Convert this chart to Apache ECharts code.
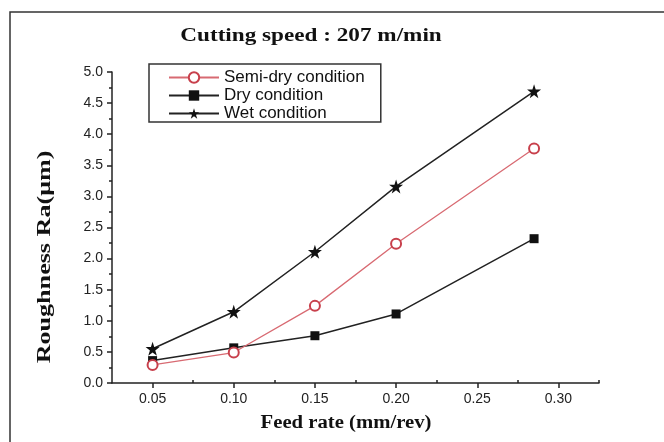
<!DOCTYPE html>
<html>
<head>
<meta charset="utf-8">
<script src="https://cdn.jsdelivr.net/npm/echarts@6/dist/echarts.min.js"></script>
<style>html,body{margin:0;padding:0;background:#fff;}#c{width:664px;height:442px;}</style>
</head>
<body>
<div id="c"></div>
<script>
const titleText = 'Cutting speed : 207 m/min';
const xName = 'Feed rate (mm/rev)';
const yName = 'Roughness Ra(\u03bcm)';
const feed = [0.05, 0.10, 0.15, 0.20, 0.285];
const semiDry = [0.29, 0.49, 1.24, 2.24, 3.77];
const dry = [0.36, 0.565, 0.76, 1.11, 2.32];
const wet = [0.55, 1.145, 2.11, 3.16, 4.69];
const seriesNames = ['Semi-dry condition', 'Dry condition', 'Wet condition'];
const xTicks = [0.05, 0.10, 0.15, 0.20, 0.25, 0.30];
const xMinorTicks = [0.075, 0.125, 0.175, 0.225, 0.275, 0.325];

const pairs = (ys) => feed.map((x, i) => [x, ys[i]]);
const star = 'path://M50,0 L61.8,36.2 L100,36.2 L69.1,58.8 L80.9,95.1 L50,72.6 L19.1,95.1 L30.9,58.8 L0,36.2 L38.2,36.2 Z';
const labelStyle = { fontFamily: 'Liberation Sans, Arial, sans-serif', fontSize: 14, color: '#222' };
const serif = 'Liberation Serif, Times New Roman, serif';
const grid = { left: 112, right: 65, top: 72, bottom: 59 };

const chart = echarts.init(document.getElementById('c'), null, { renderer: 'canvas' });
chart.setOption({
  animation: false,
  backgroundColor: '#fff',
  legend: {
    orient: 'vertical', left: 149, top: 64,
    data: seriesNames,
    borderColor: '#333', borderWidth: 1.5, borderRadius: 0,
    padding: [5, 16, 0, 19],
    itemWidth: 50, itemHeight: 13, itemGap: 1,
    textStyle: { fontFamily: 'Liberation Sans, Arial, sans-serif', fontSize: 17, color: '#111', lineHeight: 17 }
  },
  grid: grid,
  xAxis: [{
    type: 'value', min: 0.025, max: 0.325,
    axisLine: { show: true, lineStyle: { color: '#222', width: 1.5 } },
    axisTick: { show: true, length: 5, customValues: xTicks, lineStyle: { color: '#222', width: 1.5 } },
    axisLabel: { show: true, customValues: xTicks, margin: 9, formatter: v => v.toFixed(2), ...labelStyle },
    splitLine: { show: false }
  }, {
    type: 'value', min: 0.025, max: 0.325, position: 'bottom',
    axisLine: { show: false },
    axisTick: { show: true, inside: true, length: 3, customValues: xMinorTicks, lineStyle: { color: '#222', width: 1.5 } },
    axisLabel: { show: false },
    splitLine: { show: false }
  }],
  yAxis: {
    type: 'value', min: 0, max: 5, interval: 0.5,
    axisLine: { show: true, lineStyle: { color: '#222', width: 1.5 } },
    axisTick: { show: true, length: 5, lineStyle: { color: '#222', width: 1.5 } },
    minorTick: { show: true, splitNumber: 2, length: 3, lineStyle: { color: '#222', width: 1.5 } },
    axisLabel: { margin: 9, formatter: v => v.toFixed(1), ...labelStyle },
    splitLine: { show: false }
  },
  graphic: [
    { type: 'rect', shape: { x: 10, y: 12, width: 700, height: 500 }, style: { fill: 'none', stroke: '#333', lineWidth: 1.5 }, silent: true },
    { type: 'text', x: 311, y: 36, scaleX: 1.22,
      style: { text: titleText, fontFamily: serif, fontWeight: 'bold', fontSize: 19, fill: '#111', align: 'center', verticalAlign: 'middle' } },
    { type: 'text', x: 45, y: 257, rotation: Math.PI / 2, scaleX: 1.45,
      style: { text: yName, fontFamily: serif, fontWeight: 'bold', fontSize: 18, fill: '#111', align: 'center', verticalAlign: 'middle' } },
    { type: 'text', x: 346, y: 423, scaleX: 1.15,
      style: { text: xName, fontFamily: serif, fontWeight: 'bold', fontSize: 18, fill: '#111', align: 'center', verticalAlign: 'middle' } }
  ],
  series: [
    { name: seriesNames[0], type: 'line', data: pairs(semiDry), symbol: 'emptyCircle', symbolSize: 10,
      lineStyle: { color: '#d86a72', width: 1.3 }, itemStyle: { color: '#c8404c', borderWidth: 1.5 }, z: 3 },
    { name: seriesNames[1], type: 'line', data: pairs(dry), symbol: 'rect', symbolSize: 9,
      lineStyle: { color: '#222', width: 1.5 }, itemStyle: { color: '#111' }, z: 2 },
    { name: seriesNames[2], type: 'line', data: pairs(wet), symbol: star, symbolSize: 14,
      lineStyle: { color: '#222', width: 1.5 }, itemStyle: { color: '#111' }, z: 2 }
  ]
});
</script>
</body>
</html>
